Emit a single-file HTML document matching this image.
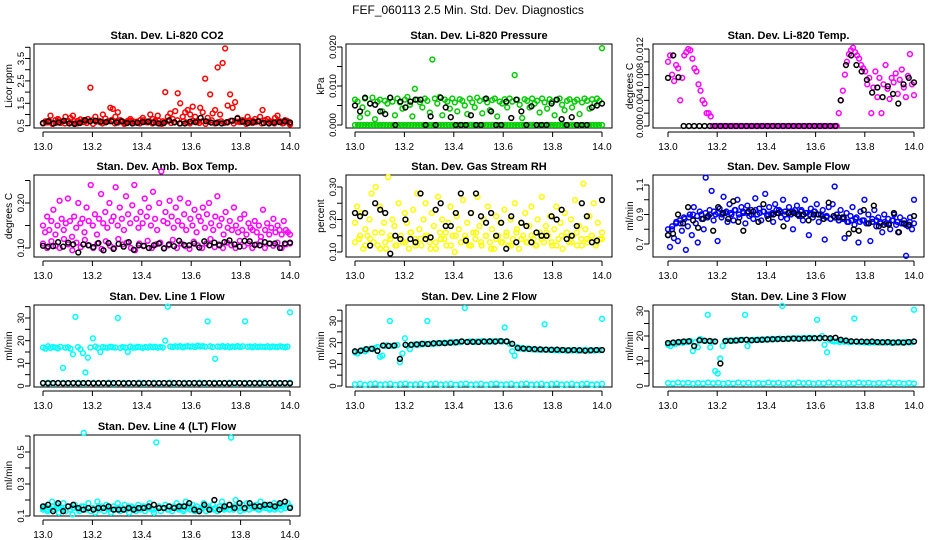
<!DOCTYPE html>
<html><head><meta charset="utf-8">
<style>
html,body{margin:0;padding:0;background:#fff;}
svg{display:block;font-family:"Liberation Sans",sans-serif;}
</style></head>
<body>
<svg id="chart" width="936" height="540" viewBox="0 0 936 540" xmlns="http://www.w3.org/2000/svg">
<rect width="936" height="540" fill="#fff"/>
<text x="468" y="14" text-anchor="middle" font-size="12">FEF_060113  2.5 Min. Std. Dev. Diagnostics</text>
</svg>
<script>
// ---- data arrays ----
const xTickLabels = ["13.0","13.2","13.4","13.6","13.8","14.0"];
const xTickValues = [13.0,13.2,13.4,13.6,13.8,14.0];

const co2Red = [0.6,0.7,0.65,0.95,0.6,0.75,0.8,0.62,0.7,0.9,0.68,0.85,0.95,0.6,0.72,0.78,0.66,0.7,0.8,2.2,0.75,0.9,0.7,0.65,1.0,0.82,0.7,1.3,1.25,0.9,1.1,0.75,0.68,0.6,0.72,0.8,0.7,0.66,0.62,0.75,0.85,0.7,0.65,1.0,0.8,0.72,0.95,0.6,0.7,2.0,0.9,1.05,0.8,1.15,1.95,1.5,0.9,1.1,1.2,1.0,1.35,0.9,0.7,1.3,1.1,2.6,0.85,1.9,1.05,1.2,3.1,1.0,3.3,3.95,1.4,1.9,1.3,1.55,0.85,0.7,0.75,0.68,0.9,0.65,0.72,0.8,0.7,0.9,1.2,0.75,0.8,0.7,0.65,0.85,0.95,0.7,0.6,0.75,0.68,0.55];
const co2RedBase = [0.6,0.65,0.7,0.58,0.62,0.75,0.68,0.6,0.72,0.64,0.7,0.6,0.66,0.74,0.62,0.7,0.58,0.68,0.72,0.6,0.65,0.7,0.76,0.6,0.64,0.7,0.58,0.66,0.72,0.62,0.68,0.6,0.74,0.66,0.7,0.6,0.64,0.72,0.58,0.68,0.7,0.62,0.66,0.74,0.6,0.7,0.64,0.6,0.72,0.66,0.62,0.7,0.58,0.68,0.74,0.6,0.66,0.7,0.62,0.64,0.72,0.6,0.68,0.66,0.7,0.58,0.74,0.62,0.66,0.7,0.6,0.72,0.64,0.68,0.6,0.7,0.66,0.62,0.72,0.6];
const co2Black = [0.62,0.7,0.6,0.65,0.72,0.6,0.58,0.62,0.75,0.7,0.72,0.68,0.66,0.7,0.65,0.7,0.62,0.6,0.63,0.66,0.68,0.64,0.6,0.62,0.74,0.65,0.6,0.6,0.68,0.66,0.85,0.7,0.64,0.62,0.6,0.66,0.72,0.82,0.68,0.62,0.66,0.7,0.62,0.6,0.64,0.66,0.7,0.65];

const presZero = [0,0,0,0,0,0,0,0,0,0,0,0,0,0,0,0,0,0,0,0,0,0,0,0,0,0,0,0,0,0,0,0,0,0,0,0,0,0,0,0,0,0,0,0,0,0,0,0,0,0,0,0,0,0,0,0,0,0,0,0,0,0,0,0,0,0,0,0,0,0,0,0,0,0,0,0,0,0,0,0];
const presGreen = [0.0065,0.006,0.002,0.0045,0.0068,0.003,0.0055,0.007,0.0015,0.006,0.0065,0.0035,0.0062,0.0055,0.007,0.006,0.0025,0.0068,0.0058,0.0042,0.0065,0.0072,0.0052,0.0022,0.0093,0.0065,0.0058,0.0045,0.0068,0.0062,0.0032,0.0168,0.0068,0.0055,0.0072,0.0025,0.0065,0.006,0.0042,0.0068,0.0058,0.0035,0.0066,0.0062,0.005,0.0028,0.0068,0.0058,0.0045,0.007,0.0062,0.003,0.0066,0.0058,0.0038,0.0064,0.0068,0.0022,0.006,0.0055,0.0066,0.0045,0.0068,0.006,0.0128,0.0065,0.0052,0.0018,0.0066,0.0062,0.0045,0.0068,0.0055,0.0062,0.0032,0.0068,0.0058,0.0042,0.0066,0.006,0.0025,0.0065,0.0068,0.0052,0.0038,0.0062,0.0066,0.0045,0.006,0.0065,0.0028,0.0058,0.0068,0.0062,0.0042,0.0066,0.0055,0.0068,0.0062,0.0197];
const presBlack = [0.005,0.0035,0.007,0.0055,0.0052,0.0035,0.0028,0.007,0,0.006,0.0045,0.006,0.0065,0.0065,0,0.0022,0,0.007,0.0045,0.002,0,0,0,0.0025,0,0,0.0068,0.0035,0,0,0.006,0.0018,0.0065,0.0035,0,0.0048,0,0,0,0.0055,0.0065,0.0015,0,0.002,0,0,0,0.0045,0.005,0.0055];

const tempMag = [0.01,0.011,0.008,0.007,0.0095,0.009,0.004,0.0075,0.011,0.0115,0.012,0.0118,0.0105,0.009,0.0085,0.0065,0.0055,0.004,0.0035,0.002,0.002,0.0015,0,0,0,0,0,0,0,0,0,0,0,0,0,0,0,0,0,0,0,0,0,0,0,0,0,0,0,0,0,0,0,0,0,0,0,0,0,0,0,0,0,0,0,0,0,0,0,0,0,0,0,0,0,0,0,0,0,0,0,0,0,0,0.002,0.004,0.0055,0.008,0.01,0.0112,0.0118,0.0122,0.0115,0.011,0.0105,0.0095,0.009,0.0085,0.0065,0.0075,0.002,0.006,0.0085,0.0045,0.0075,0.002,0.0065,0.0095,0.0058,0.0042,0.0075,0.0068,0.0082,0.005,0.0072,0.0088,0.006,0.0045,0.0078,0.0112,0.0065,0.0048];
const tempBlack = [0.0075,0.011,0.0076,0,0,0,0,0,0,0,0,0,0,0,0,0,0,0,0,0,0,0,0,0,0,0,0,0,0,0,0,0,0,0.004,0.0095,0.011,0.0095,0.0085,0.0072,0.0052,0.006,0.0045,0.0062,0.005,0.0035,0.0065,0.0075,0.0068];

const ambMag = [0.15,0.135,0.17,0.14,0.16,0.185,0.13,0.15,0.205,0.165,0.14,0.155,0.21,0.16,0.125,0.17,0.145,0.2,0.155,0.165,0.135,0.19,0.16,0.24,0.15,0.175,0.13,0.165,0.22,0.155,0.18,0.145,0.2,0.16,0.17,0.235,0.15,0.19,0.165,0.14,0.215,0.175,0.155,0.195,0.24,0.165,0.145,0.18,0.155,0.21,0.17,0.19,0.15,0.225,0.165,0.14,0.2,0.27,0.16,0.18,0.155,0.205,0.17,0.145,0.19,0.16,0.21,0.15,0.175,0.14,0.2,0.165,0.15,0.185,0.135,0.17,0.16,0.19,0.145,0.175,0.2,0.155,0.14,0.17,0.215,0.15,0.165,0.13,0.18,0.145,0.16,0.14,0.19,0.15,0.135,0.165,0.14,0.175,0.13,0.155,0.145,0.14,0.16,0.135,0.15,0.125,0.185,0.14,0.155,0.13,0.145,0.165,0.135,0.15,0.14,0.13,0.16,0.14,0.135,0.13];
const ambMagLow = [0.11,0.1,0.115,0.105,0.1,0.12,0.108,0.095,0.112,0.102,0.118,0.106,0.1,0.11,0.098,0.115,0.105,0.1,0.12,0.108,0.112,0.1,0.095,0.11,0.104,0.116,0.1,0.108,0.112,0.1,0.106,0.118,0.1,0.11,0.104,0.098,0.114,0.106,0.1,0.11,0.12,0.102,0.108,0.1,0.112,0.106,0.1,0.116,0.104,0.11,0.1,0.108,0.115,0.1,0.11,0.105,0.112,0.1,0.108,0.11];
const ambBlack = [0.105,0.103,0.104,0.113,0.103,0.112,0.108,0.09,0.108,0.106,0.102,0.111,0.095,0.111,0.098,0.109,0.103,0.113,0.096,0.106,0.105,0.1,0.106,0.11,0.099,0.108,0.104,0.116,0.107,0.106,0.11,0.101,0.115,0.106,0.112,0.106,0.113,0.117,0.108,0.103,0.116,0.115,0.107,0.106,0.113,0.11,0.11,0.1,0.11,0.112];

const rhYellow = [0.19,0.24,0.14,0.22,0.11,0.17,0.15,0.2,0.28,0.13,0.3,0.12,0.24,0.16,0.19,0.11,0.33,0.14,0.2,0.18,0.12,0.25,0.15,0.13,0.22,0.19,0.11,0.16,0.23,0.14,0.28,0.17,0.12,0.2,0.25,0.15,0.13,0.22,0.18,0.11,0.27,0.16,0.2,0.14,0.12,0.19,0.24,0.15,0.1,0.21,0.17,0.13,0.26,0.15,0.19,0.12,0.22,0.16,0.14,0.27,0.18,0.12,0.2,0.15,0.24,0.13,0.17,0.11,0.21,0.15,0.19,0.13,0.23,0.16,0.12,0.2,0.14,0.25,0.17,0.11,0.19,0.15,0.22,0.13,0.18,0.24,0.14,0.12,0.2,0.16,0.27,0.13,0.18,0.15,0.21,0.12,0.17,0.24,0.14,0.19,0.11,0.22,0.16,0.13,0.2,0.15,0.26,0.12,0.18,0.14,0.31,0.17,0.13,0.21,0.15,0.25,0.12,0.19,0.14,0.16];
const rhYellowLow = [0.13,0.15,0.12,0.14,0.16,0.11,0.13,0.15,0.12,0.14,0.13,0.16,0.12,0.14,0.15,0.11,0.13,0.14,0.16,0.12,0.15,0.13,0.14,0.12,0.16,0.13,0.15,0.11,0.14,0.13,0.15,0.12,0.16,0.14,0.13,0.15,0.12,0.14,0.16,0.13,0.12,0.15,0.14,0.13,0.16,0.12,0.14,0.15,0.13,0.14];
const rhBlack = [0.22,0.21,0.22,0.12,0.25,0.23,0.22,0.095,0.15,0.14,0.2,0.14,0.13,0.28,0.14,0.145,0.23,0.25,0.18,0.18,0.22,0.28,0.135,0.22,0.28,0.21,0.19,0.22,0.15,0.19,0.11,0.21,0.13,0.19,0.18,0.13,0.16,0.15,0.15,0.21,0.2,0.23,0.14,0.15,0.18,0.25,0.21,0.13,0.135,0.26];

const flowBlue = [0.76,0.68,0.8,0.74,0.84,0.72,0.86,0.79,0.88,0.66,0.82,0.9,0.76,0.95,0.84,0.71,0.92,0.87,0.8,1.15,0.88,0.93,1.06,0.86,0.9,0.72,0.94,0.88,1.02,0.91,0.85,0.97,0.9,0.86,0.93,1.0,0.88,0.95,0.91,0.84,0.96,0.89,0.93,0.87,1.01,0.9,0.94,0.86,0.92,1.04,0.89,0.95,0.9,0.85,0.97,0.91,0.93,0.88,1.0,0.92,0.87,0.95,0.9,0.8,0.93,0.96,0.89,0.92,0.86,1.0,0.91,0.76,0.94,0.88,0.92,0.97,0.85,0.9,0.93,0.73,0.89,0.95,0.87,0.97,1.09,0.9,0.86,0.93,0.88,0.74,0.91,0.85,0.89,0.95,0.83,0.88,0.71,0.92,0.86,1.0,0.84,0.9,0.72,0.87,0.93,0.82,0.88,0.85,0.78,0.9,0.84,0.87,0.8,0.86,0.9,0.83,0.78,0.88,0.84,0.86,0.62,0.82,0.88,0.8,1.0];
const flowBlueBand = [0.8,0.82,0.85,0.84,0.87,0.88,0.9,0.89,0.9,0.91,0.9,0.92,0.91,0.9,0.92,0.91,0.93,0.9,0.92,0.91,0.9,0.93,0.91,0.92,0.9,0.91,0.93,0.92,0.9,0.91,0.92,0.9,0.93,0.91,0.9,0.92,0.9,0.89,0.88,0.87,0.88,0.86,0.87,0.85,0.86,0.87,0.85,0.86,0.84,0.85,0.86,0.84,0.85,0.84,0.86,0.85,0.84,0.83,0.85,0.84];
const flowBlack = [0.76,0.77,0.9,0.84,0.95,0.86,0.81,0.87,0.89,0.79,0.95,0.91,0.87,0.99,0.85,0.79,0.92,0.92,0.85,0.97,0.87,0.9,0.91,0.82,0.91,0.91,0.9,0.9,0.86,0.9,0.9,0.87,0.98,0.89,0.88,0.88,0.77,0.8,0.79,0.93,0.84,0.96,0.82,0.83,0.83,0.91,0.78,0.84,0.83,0.89];

const l1CyanHigh = [17,16.5,17.5,16.8,17.2,17,16.6,17.3,8,16.9,17.1,16.5,14,30.5,17.2,16.2,14.5,6,12.5,17,21,17.4,16.8,15,17.2,17,16.9,17.3,17.1,17,30,16.8,17.2,17,15,17.4,16.9,17,17.3,17.1,16.8,17.2,17,17.4,17.1,17.3,16.9,17.2,17,20,35,17.4,17.2,17.5,17.3,17.6,17.1,17.4,17.6,17.3,17.5,17.2,17.8,17.4,17.6,17.3,28.5,17.5,17.2,12,17.4,17.3,17.6,17.2,17.5,17.1,17.4,17.3,17.6,17.2,17.5,28.5,17.3,17.4,17.1,17.5,17.2,17.4,17.3,17.2,17.5,17.1,17.4,17.3,17.2,17.5,17.3,17.1,17.4,32.5];
const l1CyanLow = [1.2,1.5,1,1.3,1.4,1.1,1.2,1.5,1,1.3,1.4,1.1,1.2,1.5,1,1.3,1.4,1.1,1.2,1.5,1,1.3,1.4,1.1,1.2,1.5,1,1.3,1.4,1.1,1.2,1.5,1,1.3,1.4,1.1,1.2,1.5,1,1.3,1.4,1.1,1.2,1.5,1,1.3,1.4,1.1,1.2,1.5];
const l1Black = [1.3,1.2,1.3,1.3,1.2,1.3,1.3,1.2,1.3,1.3,1.2,1.3,1.3,1.2,1.3,1.3,1.2,1.3,1.3,1.2,1.3,1.3,1.2,1.3,1.3,1.2,1.3,1.3,1.2,1.3,1.3,1.2,1.3,1.3,1.2,1.3,1.3,1.2,1.3,1.3,1.2,1.3,1.3,1.2,1.3,1.3,1.2,1.3,1.3,1.2];

const l2CyanHigh = [15.5,15,16,16.5,16,16.8,17.2,17,17.5,18,13.5,14,18.5,18.8,30,18.5,18.7,18.9,11,15,22,18.5,17,19,19.2,18.9,19.3,19.2,19.5,30,19.5,19.4,19.6,19.7,19.8,19.9,20,19.9,20.1,20.2,20,20.3,20.2,20.5,36,20.4,20.6,20.5,20.3,20.6,20.5,20.7,20.6,20.4,20.7,20.6,20.5,20.8,20.7,20.5,27,20.6,19.5,16,14,18,17.2,17.5,17,17.3,17.1,16.9,17,16.8,16.9,16.7,28.5,16.8,16.6,16.7,16.5,16.6,16.4,16.6,16.5,16.3,16.5,16.4,16.6,16.3,16.5,16.4,16.6,16.5,16.3,16.5,16.4,16.6,16.5,31];
const l2CyanLow = [0.8,1,0.6,0.9,1.1,0.7,0.8,1,0.6,0.9,1.1,0.7,0.8,1,0.6,0.9,1.1,0.7,0.8,1,0.6,0.9,1.1,0.7,0.8,1,0.6,0.9,1.1,0.7,0.8,1,0.6,0.9,1.1,0.7,0.8,1,0.6,0.9,1.1,0.7,0.8,1,0.6,0.9,1.1,0.7,0.8,1];
const l2Black = [16,16.3,17,17.2,16.2,18.7,18.5,18.7,12.5,19,19,19.2,19.5,19.4,19.7,19.8,19.8,20,20.2,20.6,20.3,20.4,20.3,20.5,20.6,20.5,20.7,20.6,19.5,17.5,17.3,17.1,17,16.9,16.8,16.7,16.8,16.6,16.5,16.6,16.5,16.3,16.5,16.6,16.6];

const l3CyanHigh = [16.5,16,17,16.8,17.2,17.5,17.3,17.8,17.6,18,14,17.5,15.5,18.8,18.2,18,28.5,15.5,17.8,6,5,11,16,18,18.2,18.1,18,18.3,18.2,18.4,18.5,28.5,16,18.3,18.5,18.4,18.6,18.5,18.7,18.6,18.8,18.7,18.9,18.8,18.7,19,32,18.8,19,18.9,19.1,19,19.2,18.9,19.1,19.2,19,19.3,19.1,19.2,26.5,19,20,16.5,13.5,18.5,18,17.8,18,17.6,17.9,17.7,17.8,17.5,17.6,27,17.7,17.5,17.6,17.4,17.5,17.3,17.6,17.4,17.5,17.3,17.5,17.4,17.3,17.5,17.2,17.4,17.3,17.5,17.4,17.3,17.6,17.4,17.5,30.5];
const l3CyanLow = [1.2,1,1.4,1.1,1.3,0.9,1.2,1,1.4,1.1,1.3,0.9,1.2,1,1.4,1.1,1.3,0.9,1.2,1,1.4,1.1,1.3,0.9,1.2,1,1.4,1.1,1.3,0.9,1.2,1,1.4,1.1,1.3,0.9,1.2,1,1.4,1.1,1.3,0.9,1.2,1,1.4,1.1,1.3,0.9,1.2,1];
const l3Black = [17.2,17.4,17.6,17.8,17.9,16,18.3,18.1,18,17.8,9,18,18.1,18.2,18.4,18.5,18.3,18.4,18.5,18.6,18.7,18.8,18.8,18.9,19,18.9,19,19.1,19.1,19.2,19.2,19.1,19.3,18.5,18.2,17.9,17.8,17.8,17.7,17.8,17.6,17.5,17.6,17.4,17.5,17.4,17.6,17.8];

const l4Cyan = [0.14,0.16,0.13,0.15,0.19,0.14,0.17,0.12,0.15,0.18,0.13,0.16,0.14,0.11,0.17,0.15,0.13,0.16,0.62,0.14,0.18,0.13,0.15,0.12,0.19,0.14,0.16,0.13,0.17,0.15,0.12,0.16,0.14,0.18,0.13,0.15,0.17,0.14,0.12,0.16,0.15,0.13,0.17,0.14,0.16,0.13,0.15,0.18,0.14,0.12,0.56,0.16,0.13,0.15,0.17,0.14,0.16,0.13,0.15,0.18,0.14,0.16,0.13,0.19,0.15,0.14,0.17,0.13,0.16,0.14,0.15,0.18,0.13,0.16,0.14,0.17,0.15,0.13,0.16,0.19,0.14,0.15,0.17,0.59,0.14,0.2,0.16,0.13,0.17,0.15,0.18,0.14,0.16,0.15,0.17,0.14,0.19,0.16,0.15,0.17,0.14,0.16,0.18,0.15,0.17,0.14,0.16,0.15,0.18,0.16];
const l4CyanBand = [0.15,0.14,0.16,0.15,0.14,0.16,0.15,0.14,0.16,0.15,0.14,0.16,0.15,0.14,0.16,0.15,0.14,0.16,0.15,0.14,0.16,0.15,0.14,0.16,0.15,0.14,0.16,0.15,0.14,0.16,0.15,0.14,0.16,0.15,0.14,0.16,0.15,0.14,0.16,0.15,0.14,0.16,0.15,0.14,0.16,0.15,0.14,0.16,0.15,0.16];
const l4Black = [0.16,0.17,0.13,0.18,0.13,0.16,0.17,0.15,0.14,0.15,0.14,0.15,0.15,0.16,0.14,0.14,0.14,0.15,0.14,0.15,0.15,0.16,0.17,0.15,0.15,0.16,0.15,0.16,0.16,0.18,0.14,0.13,0.17,0.14,0.2,0.14,0.16,0.17,0.15,0.18,0.15,0.18,0.16,0.16,0.17,0.17,0.16,0.18,0.19,0.15];

// ---- layout ----
const NS = "http://www.w3.org/2000/svg";
const svg = document.getElementById("chart");
const cols = [{l:34,r:300,x0:43,x1:290,lab:9},{l:346,r:612,x0:355,x1:602,lab:321},{l:653,r:924,x0:668,x1:914,lab:630}];
const rows = [{t:44,b:128},{t:175,b:257},{t:305,b:387},{t:435,b:516}];

const panels = [
 {c:0,r:0,title:"Stan. Dev. Li-820 CO2",ylab:"Licor ppm",v0:0.5,p0:125.7,v1:3.5,p1:58.5,ticks:[0.5,1,1.5,2,2.5,3,3.5,4],labels:["0.5","1.5","2.5","3.5"],series:[[co2RedBase,"#ff0000"],[co2Red,"#ff0000"],[co2Black,"#000"]]},
 {c:1,r:0,title:"Stan. Dev. Li-820 Pressure",ylab:"kPa",v0:0,p0:125,v1:0.02,p1:47,ticks:[0,0.005,0.01,0.015,0.02],labels:["0.000","0.010","0.020"],series:[[presZero,"#00cc00"],[presGreen,"#00cc00"],[presBlack,"#000"]]},
 {c:2,r:0,title:"Stan. Dev. Li-820 Temp.",ylab:"degrees C",v0:0,p0:126,v1:0.012,p1:49,ticks:[0,0.002,0.004,0.006,0.008,0.01,0.012],labels:["0.000","0.004","0.008","0.012"],series:[[tempMag,"#ff00ff"],[tempBlack,"#000"]]},
 {c:0,r:1,title:"Stan. Dev. Amb. Box Temp.",ylab:"degrees C",v0:0.1,p0:248,v1:0.2,p1:203,ticks:[0.1,0.15,0.2,0.25],labels:["0.10","0.20"],series:[[ambMagLow,"#ff00ff"],[ambMag,"#ff00ff"],[ambBlack,"#000"]]},
 {c:1,r:1,title:"Stan. Dev. Gas Stream RH",ylab:"percent",v0:0.1,p0:252,v1:0.3,p1:187,ticks:[0.1,0.15,0.2,0.25,0.3],labels:["0.10","0.20","0.30"],series:[[rhYellowLow,"#ffff00"],[rhYellow,"#ffff00"],[rhBlack,"#000"]]},
 {c:2,r:1,title:"Stan. Dev. Sample Flow",ylab:"ml/min",v0:0.7,p0:244,v1:1.1,p1:185,ticks:[0.7,0.8,0.9,1.0,1.1],labels:["0.7","0.9","1.1"],series:[[flowBlueBand,"#0000ff"],[flowBlue,"#0000ff"],[flowBlack,"#000"]]},
 {c:0,r:2,title:"Stan. Dev. Line 1 Flow",ylab:"ml/min",v0:0,p0:386,v1:30,p1:318,ticks:[0,5,10,15,20,25,30,35],labels:["0","10","20","30"],series:[[l1CyanLow,"#00ffff"],[l1CyanHigh,"#00ffff"],[l1Black,"#000"]]},
 {c:1,r:2,title:"Stan. Dev. Line 2 Flow",ylab:"ml/min",v0:0,p0:386,v1:30,p1:321,ticks:[0,5,10,15,20,25,30,35],labels:["0","10","20","30"],series:[[l2CyanLow,"#00ffff"],[l2CyanHigh,"#00ffff"],[l2Black,"#000"]]},
 {c:2,r:2,title:"Stan. Dev. Line 3 Flow",ylab:"ml/min",v0:0,p0:386,v1:30,p1:311,ticks:[0,5,10,15,20,25,30],labels:["0","10","20","30"],series:[[l3CyanLow,"#00ffff"],[l3CyanHigh,"#00ffff"],[l3Black,"#000"]]},
 {c:0,r:3,title:"Stan. Dev. Line 4 (LT) Flow",ylab:"ml/min",v0:0.1,p0:516,v1:0.5,p1:452,ticks:[0.1,0.2,0.3,0.4,0.5,0.6],labels:["0.1","0.3","0.5"],series:[[l4CyanBand,"#00ffff"],[l4Cyan,"#00ffff"],[l4Black,"#000"]]}
];

function mk(tag, attrs, parent){
  const e = document.createElementNS(NS, tag);
  for (const k in attrs) e.setAttribute(k, attrs[k]);
  (parent||svg).appendChild(e);
  return e;
}

panels.forEach((p, pi) => {
  const col = cols[p.c], row = rows[p.r];
  const g = mk("g", {});
  
  
  const sx = v => col.x0 + (v - 13) * (col.x1 - col.x0);
  const sy = v => p.p0 + (v - p.v0) * (p.p1 - p.p0) / (p.v1 - p.v0);
  const t = mk("text", {x:(col.l+col.r)/2, y:row.t-5, "text-anchor":"middle", "font-size":"11", "font-weight":"bold"}, g);
  
  
  t.textContent = p.title;
  const box = mk("rect", {x:col.l, y:row.t, width:col.r-col.l, height:row.b-row.t, fill:"none", stroke:"#000", "stroke-width":"1"}, g);
  
  
  const xa = mk("g", {}, g);
  
  
  mk("line", {x1:sx(13), x2:sx(14), y1:row.b+4, y2:row.b+4, stroke:"#000"}, xa);
  xTickValues.forEach((v, i) => {
    mk("line", {x1:sx(v), x2:sx(v), y1:row.b+4, y2:row.b+9, stroke:"#000"}, xa);
    const tl = mk("text", {x:sx(v), y:row.b+22, "text-anchor":"middle", "font-size":"10"}, xa);
    
    
    tl.textContent = xTickLabels[i];
  });
  const ya = mk("g", {}, g);
  
  
  const ax = col.l - 4;
  mk("line", {x1:ax, x2:ax, y1:sy(p.ticks[0]), y2:sy(p.ticks[p.ticks.length-1]), stroke:"#000"}, ya);
  p.ticks.forEach(v => mk("line", {x1:ax-5, x2:ax, y1:sy(v), y2:sy(v), stroke:"#000"}, ya));
  p.labels.forEach(s => {
    const v = parseFloat(s), yy = sy(v), bx = ax - 6;
    const tl = mk("text", {x:bx, y:yy, "text-anchor":"middle", "font-size":"9.5", transform:`rotate(-90 ${bx} ${yy})`}, ya);
    
    
    tl.textContent = s;
  });
  const cy = (row.t + row.b)/2;
  const yl = mk("text", {x:col.lab, y:cy, "text-anchor":"middle", "font-size":"10", transform:`rotate(-90 ${col.lab} ${cy})`, dy:"3"}, g);
  
  
  yl.textContent = p.ylab;
  p.series.forEach(([vals, color]) => {
    const sg = mk("g", {fill:"none", stroke:color, "stroke-width":"1.5"}, g);
    
    
    const n = vals.length;
    vals.forEach((v, i) => {
      const c = mk("circle", {cx:sx(13 + i/(n-1)), cy:sy(v), r:"2.4"}, sg);
      
      
    });
  });
});
</script>
</body></html>
